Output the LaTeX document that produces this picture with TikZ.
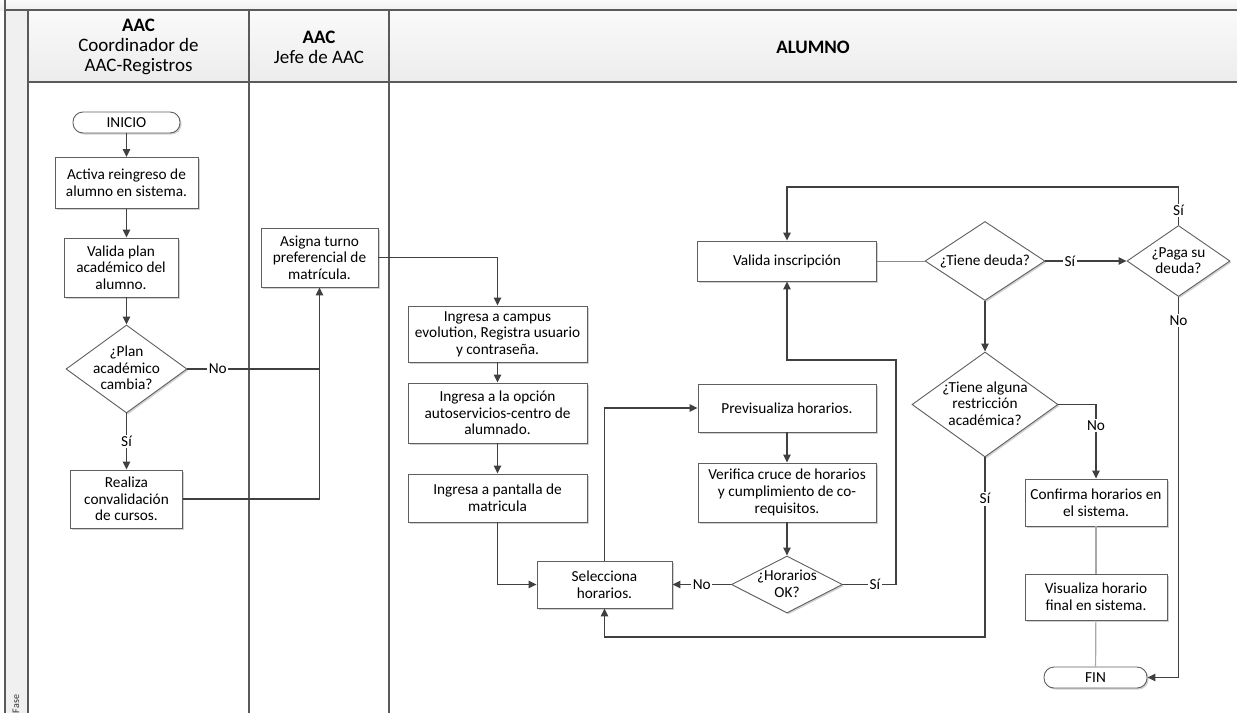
\documentclass[tikz,border=0pt]{standalone}
\usepackage{fontspec}
\setmainfont{Carlito}
\usetikzlibrary{shapes.geometric,arrows.meta,shadows}
\definecolor{lane}{HTML}{5A5A5A}
\definecolor{conn}{HTML}{404040}
\definecolor{boxline}{HTML}{5F5F5F}
\definecolor{hdrtop}{HTML}{FAFAFA}
\definecolor{hdrbot}{HTML}{ECECEC}
\definecolor{strip}{HTML}{F0F0F0}
\definecolor{softconn}{HTML}{8C8C8C}
\definecolor{lightconn}{HTML}{A8A8A8}
\newcommand{\dtxt}[1]{\smash{\raisebox{-0.3em}{\makebox[0pt]{\begin{tabular}{@{}c@{}}#1\end{tabular}}}}}
\tikzset{
  base/.style={font=\fontsize{15.3}{16.6}\selectfont, text=black},
  shade2/.style={drop shadow={shadow xshift=1.5pt, shadow yshift=-1.5pt, fill=black!18, opacity=1}},
  procbox/.style={base, shade2, draw=boxline, line width=0.9pt, fill=white, rectangle, align=center, inner sep=2pt},
  decbox/.style={base, shade2, draw=boxline, line width=0.9pt, fill=white, diamond, inner sep=0pt},
  termbox/.style={base, shade2, draw=boxline, line width=0.9pt, fill=white, rectangle, rounded corners=10pt, inner sep=1pt},
  hdr/.style={font=\fontsize{19}{20}\selectfont, align=center, text=black},
  lanel/.style={draw=lane, line width=1.3pt},
  flow/.style={draw=conn, line width=1.3pt, -{Triangle[length=8pt,width=7.5pt]}},
  flowline/.style={draw=conn, line width=1.3pt},
  flowsoft/.style={draw=softconn, line width=1pt},
  flowlight/.style={draw=lightconn, line width=1.2pt},
  lbl/.style={base, fill=white, inner sep=1.5pt}
}
\begin{document}
\begin{tikzpicture}[x=1pt, y=-1pt]
\useasboundingbox (0,0) rectangle (1237,713);
% swimlane frame
\shade[top color=hdrtop, bottom color=strip] (0,0) rectangle (1237,10);
\fill[strip] (5,10) rectangle (28,713);
\shade[top color=hdrtop, bottom color=hdrbot] (28,10) rectangle (1237,82);
\draw[lanel] (5,0) -- (5,713);
\draw[lanel] (28,10) -- (28,713);
\draw[lanel] (5,10) -- (1237,10);
\draw[lanel] (28,82) -- (1237,82);
\draw[lanel] (249,10) -- (249,713);
\draw[lanel] (389,10) -- (389,713);
\node[font=\fontsize{10}{11}\selectfont, rotate=90, text=black!80] (fase) at (16,704) {Fase};
% headers
\node[hdr] (h1) at (138.5,47) {\textbf{AAC}\\Coordinador de\\AAC-Registros};
\node[hdr] (h2) at (319,47) {\textbf{AAC}\\Jefe de AAC};
\node[hdr] (h3) at (813,47) {\textbf{ALUMNO}};
% column 1
\node[termbox, minimum width=107pt, minimum height=21pt] (inicio) at (126.5,122.5) {INICIO};
\node[procbox, minimum width=143pt, minimum height=51pt] (activa) at (126.5,183) {Activa reingreso de\\alumno en sistema.};
\node[procbox, minimum width=114pt, minimum height=59pt] (validaplan) at (121,267.5) {Valida plan\\académico del\\alumno.};
\node[decbox, minimum width=121pt, minimum height=88pt] (dec1) at (126.5,369) {\dtxt{¿Plan\\académico\\cambia?}};
\node[procbox, minimum width=112pt, minimum height=58pt] (realiza) at (126.5,499) {Realiza\\convalidación\\de cursos.};
% column 2
\node[procbox, minimum width=117pt, minimum height=59pt] (asigna) at (319.5,257.5) {Asigna turno\\preferencial de\\matrícula.};
% column 3
\node[procbox, minimum width=179pt, minimum height=56pt] (campus) at (497.5,334) {Ingresa a campus\\evolution, Registra usuario\\y contraseña.};
\node[procbox, minimum width=179pt, minimum height=60pt] (opcion) at (497.5,413) {Ingresa a la opción\\autoservicios-centro de\\alumnado.};
\node[procbox, minimum width=179pt, minimum height=48pt] (pantalla) at (497.5,498) {Ingresa a pantalla de\\matricula};
\node[procbox, minimum width=135pt, minimum height=47pt] (selecciona) at (604.5,584.5) {Selecciona\\horarios.};
\node[procbox, minimum width=178pt, minimum height=48pt] (previsualiza) at (787,408) {Previsualiza horarios.};
\node[procbox, minimum width=178pt, minimum height=59pt] (verifica) at (787,492.5) {Verifica cruce de horarios\\y cumplimiento de co-\\requisitos.};
\node[decbox, minimum width=111pt, minimum height=57pt] (horok) at (787,584.5) {\dtxt{¿Horarios\\OK?}};
\node[procbox, minimum width=179pt, minimum height=40pt] (validains) at (787,261) {Valida inscripción};
\node[decbox, minimum width=120pt, minimum height=79pt] (tienedeuda) at (985,261) {\dtxt{¿Tiene deuda?}};
\node[decbox, minimum width=103pt, minimum height=71pt] (paga) at (1178.5,261) {\dtxt{¿Paga su\\deuda?}};
\node[decbox, minimum width=146pt, minimum height=105pt] (restriccion) at (985,404.5) {\dtxt{¿Tiene alguna\\restricción\\académica?}};
\node[procbox, minimum width=142pt, minimum height=47pt] (confirma) at (1096,502.5) {Confirma horarios en\\el sistema.};
\node[procbox, minimum width=142pt, minimum height=46pt] (visualiza) at (1096,597) {Visualiza horario\\final en sistema.};
\node[termbox, minimum width=103pt, minimum height=21pt] (fin) at (1095.5,677.5) {FIN};
\coordinate (c1) at (896,360);
\coordinate (c2) at (1178.5,187);
\coordinate (c3) at (985,637);
% connectors
\draw[flow] (inicio) -- (activa);
\draw[flow] (activa.south) -- (activa.south |- validaplan.north);
\draw[flow] (validaplan.south -| dec1.north) -- (dec1.north);
\draw[flow] (dec1.south) -- node[lbl] (lsi1) {Sí} (realiza.north);
\draw[flow] (realiza.east) -| (asigna.south);
\draw[flowline] (dec1.east) -- node[lbl, pos=0.23] (lno1) {No} (dec1.east -| asigna.south);
\draw[flow] (asigna.east) -| (campus.north);
\draw[flow] (campus) -- (opcion);
\draw[flow] (opcion) -- (pantalla);
\draw[flow] (pantalla.south) |- (selecciona.west);
\draw[flow] (selecciona.north) |- (previsualiza.west);
\draw[flow] (previsualiza) -- (verifica);
\draw[flow] (verifica) -- (horok);
\draw[flow] (horok.west) -- node[lbl] (lno2) {No} (selecciona.east);
\draw[flow] (horok.east) -- node[lbl, pos=0.6] (lsi2) {Sí} (horok.east -| c1) -- (c1) -| (validains.south);
\draw[flowsoft] (validains.east) -- (tienedeuda.west);
\draw[flow] (tienedeuda.east) -- node[lbl, pos=0.3] (lsi3) {Sí} (paga.west);
\draw[flow] (paga.north) -- node[lbl, pos=0.38] (lsi4) {Sí} (c2) -| (validains.north);
\draw[flow] (paga.south) -- node[lbl, pos=0.063] (lno3) {No} (paga.south |- fin.east) -- (fin.east);
\draw[flow] (tienedeuda) -- (restriccion);
\draw[flow] (restriccion.east) -- (restriccion.east -| confirma.north) -- node[lbl, pos=0.28] (lno4) {No} (confirma.north);
\draw[flow] (restriccion.south) -- node[lbl, pos=0.23] (lsi5) {Sí} (c3) -| (selecciona.south);
\draw[flowlight] (confirma) -- (visualiza);
\draw[flowlight] (visualiza) -- (fin);
\end{tikzpicture}
\end{document}
